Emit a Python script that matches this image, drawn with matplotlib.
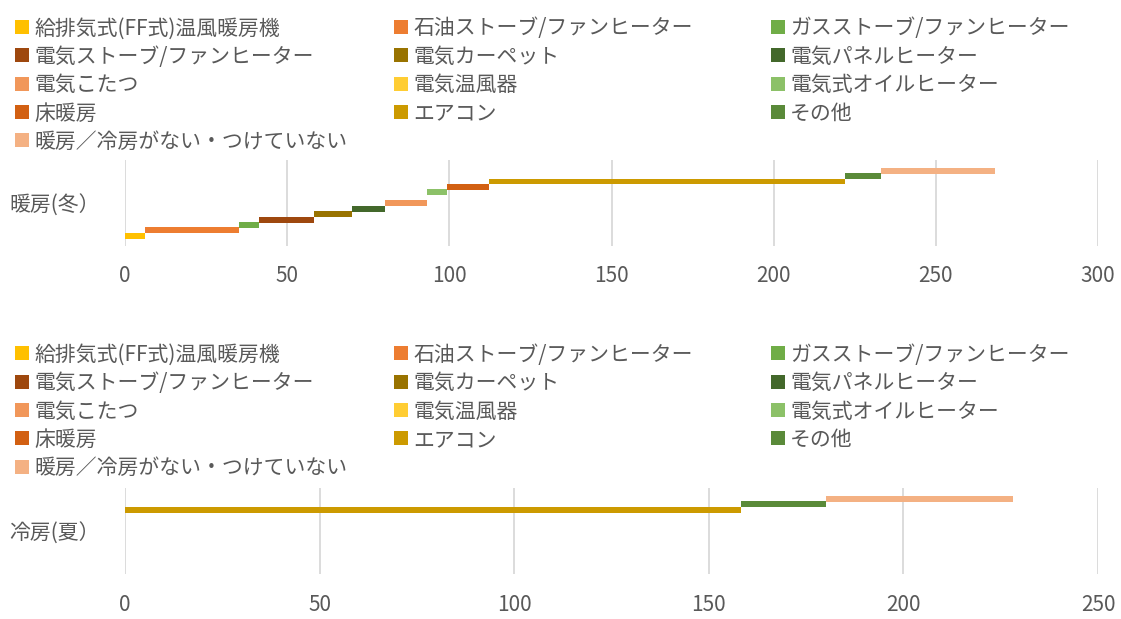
import matplotlib
matplotlib.use("Agg")
import matplotlib.pyplot as plt
from matplotlib.patches import Rectangle
import numpy as np

plt.rcParams["font.family"] = ["Noto Sans CJK JP", "DejaVu Sans"]

W, H = 1121, 619
TEXT_COLOR = "#595959"
GRID_COLOR = "#D9D9D9"
FONT_SIZE = 15

SERIES = [
    "給排気式(FF式)温風暖房機",
    "石油ストーブ/ファンヒーター",
    "ガスストーブ/ファンヒーター",
    "電気ストーブ/ファンヒーター",
    "電気カーペット",
    "電気パネルヒーター",
    "電気こたつ",
    "電気温風器",
    "電気式オイルヒーター",
    "床暖房",
    "エアコン",
    "その他",
    "暖房／冷房がない・つけていない",
]

COLORS = [
    "#FFC000", "#ED7D31", "#70AD47", "#9E480E", "#997300", "#43682B",
    "#F1975A", "#FFCD33", "#8CC168", "#D26012", "#CC9A00", "#5A8A39",
    "#F4B183",
]

heating_values = [6.2, 28.9, 6.2, 16.9, 11.7, 10.2, 12.9, 0.0, 6.2, 12.9, 110.0, 11.1, 35.1]
cooling_values = [0, 0, 0, 0, 0, 0, 0, 0, 0, 0, 158.3, 21.8, 48.1]

heating_label = "暖房(冬）"
cooling_label = "冷房(夏）"

heating_ticks = [0, 50, 100, 150, 200, 250, 300]
cooling_ticks = [0, 50, 100, 150, 200, 250]


def fig_x(px):
    return px / W


def fig_y(px):
    return 1 - px / H


def draw_legend(fig, first_row_y):
    # Excel-style legend: 3 columns, filled row by row
    col_x = [15, 394, 771]
    row_step = 28.35
    box = 14
    for i, (name, color) in enumerate(zip(SERIES, COLORS)):
        row, col = divmod(i, 3)
        x = col_x[col]
        y = first_row_y + row * row_step
        fig.add_artist(Rectangle((fig_x(x), fig_y(y + box / 2)), box / W, box / H,
                                 transform=fig.transFigure, color=color, lw=0))
        fig.text(fig_x(x + 19), fig_y(y + 1.5), name, fontsize=FONT_SIZE,
                 color=TEXT_COLOR, va="center", ha="left")


def draw_panel(fig, top_px, values, label, ticks):
    bottom_px = top_px + 86
    ax = fig.add_axes([fig_x(125), fig_y(bottom_px), fig_x(1098) - fig_x(125), 86 / H])
    values = np.array(values, dtype=float)
    lefts = np.concatenate([[0], np.cumsum(values)[:-1]])
    levels = np.arange(len(values))
    for lvl, left, val, color in zip(levels, lefts, values, COLORS):
        if val > 0:
            ax.barh(lvl, val, left=left, height=1.1, color=color, lw=0, zorder=3)

    ax.set_xlim(ticks[0], ticks[-1])
    ax.set_ylim(-1.85, 13.95)
    ax.set_xticks(ticks)
    ax.set_yticks([6])
    ax.set_yticklabels([label])
    ax.grid(axis="x", color=GRID_COLOR, lw=1.3, zorder=0)
    for side in ax.spines.values():
        side.set_visible(False)
    ax.tick_params(axis="x", length=0, pad=14, labelsize=FONT_SIZE, labelcolor=TEXT_COLOR)
    ax.tick_params(axis="y", length=0, pad=18, labelsize=FONT_SIZE, labelcolor=TEXT_COLOR)
    return ax


fig = plt.figure(figsize=(W / 100, H / 100), dpi=100)

draw_legend(fig, 27)
draw_panel(fig, 160, heating_values, heating_label, heating_ticks)

draw_legend(fig, 353.3)
draw_panel(fig, 488.3, cooling_values, cooling_label, cooling_ticks)

fig.savefig("out.png", dpi=100)
